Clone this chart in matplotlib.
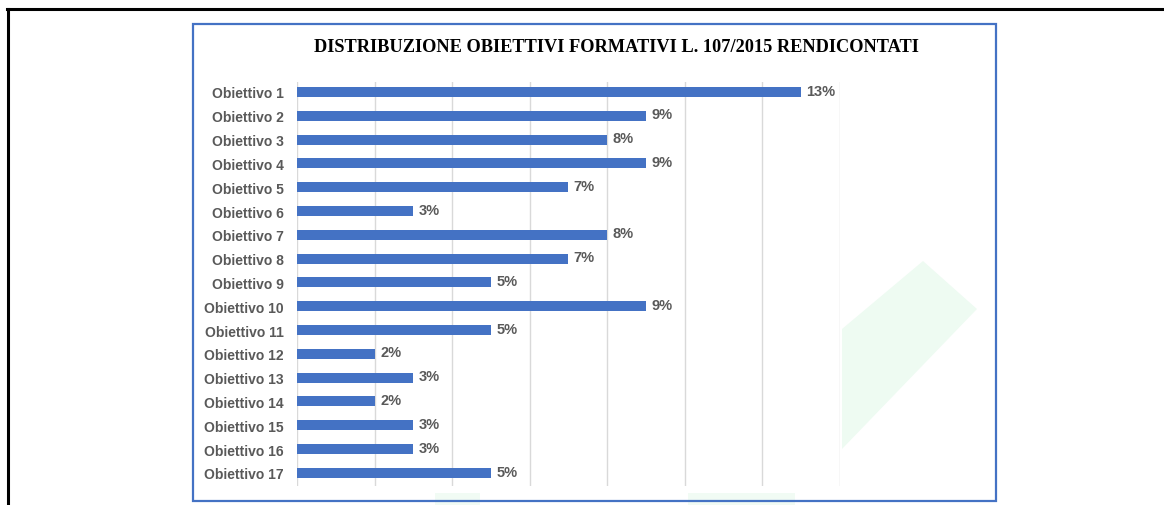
import matplotlib.pyplot as plt
from matplotlib.patches import Polygon, Rectangle

# --- Data ---
categories = [f"Obiettivo {i}" for i in range(1, 18)]
values = [13, 9, 8, 9, 7, 3, 8, 7, 5, 9, 5, 2, 3, 2, 3, 3, 5]
title = "DISTRIBUZIONE OBIETTIVI FORMATIVI L. 107/2015 RENDICONTATI"

W, H = 1164, 506
bar_color = "#4472C4"
text_color = "#595959"

fig = plt.figure(figsize=(W / 100, H / 100), dpi=100)

def px(x, y):
    """pixel coords (top-left origin) -> figure fraction"""
    return x / W, 1 - y / H

# faint green watermark in the background
wm = Polygon([px(842, 330), px(923, 262), px(977, 310), px(842, 450)],
             closed=True, transform=fig.transFigure, facecolor="#eefbf2",
             edgecolor="none", zorder=0)
fig.patches.append(wm)
for x0, x1 in [(435, 480), (688, 795)]:
    fig.patches.append(Rectangle(px(x0, 506), (x1 - x0) / W, 12 / H,
                                 transform=fig.transFigure, facecolor="#f1fbf4",
                                 edgecolor="none", zorder=0))

# page frame (black) and chart frame (blue)
fig.add_artist(plt.Line2D([7 / W, 1], [1 - 10 / H] * 2, color="black", lw=2.2))
fig.add_artist(plt.Line2D([8 / W] * 2, [0, 1 - 10 / H], color="black", lw=2.2))
fig.patches.append(Rectangle(px(193, 502), (996 - 193) / W, (502 - 25) / H,
                             transform=fig.transFigure, facecolor="none",
                             edgecolor=bar_color, lw=1.6, zorder=1))

# --- Axes ---
left, right = 297 / W, 839.5 / W
bottom, top = 1 - 487 / H, 1 - 83 / H
ax = fig.add_axes([left, bottom, right - left, top - bottom])
ax.patch.set_alpha(0)

ypos = list(range(len(categories)))
ax.barh(ypos, values, height=0.42, color=bar_color, zorder=2)
ax.set_ylim(16.55, -0.42)
ax.set_xlim(0, 14)
ax.set_xticks(range(0, 15, 2))
ax.set_xticklabels([])
ax.tick_params(axis="x", length=0)
ax.grid(axis="x", color="#d9d9d9", lw=1, zorder=0)
ax.set_yticks(ypos)
ax.set_yticklabels(categories, fontsize=10, fontweight="bold",
                   color=text_color, family="Liberation Sans")
ax.tick_params(axis="y", length=0, pad=9.5)
for s in ax.spines.values():
    s.set_visible(False)

for y, v in zip(ypos, values):
    ax.annotate(f"{v}%", (v, y), xytext=(4, 1), textcoords="offset points",
                va="center", ha="left", fontsize=10.5, fontweight="bold",
                color=text_color, family="Liberation Sans")

fig.text(616 / W, 1 - 47 / H, title, ha="center", va="center",
         fontsize=13.2, fontweight="bold", family="Liberation Serif",
         color="black")

fig.savefig("out.png", dpi=100)
